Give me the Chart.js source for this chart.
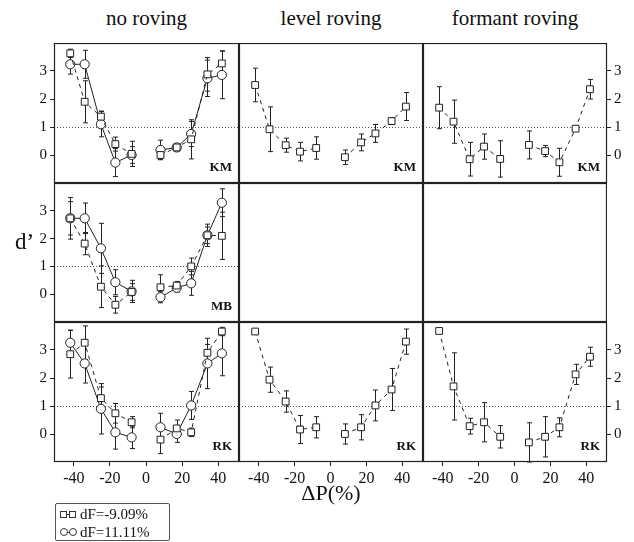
<!DOCTYPE html>
<html>
<head>
<meta charset="utf-8">
<script src="https://cdn.jsdelivr.net/npm/chart.js@4"></script>
<style>
  body { margin: 0; background: #fff; font-family: "Liberation Serif", "DejaVu Serif", serif; color: #111; }
  #wrap { position: relative; width: 634px; height: 542px; overflow: hidden; }
  canvas { position: absolute; }
  .txt { position: absolute; white-space: nowrap; }
  .title { font-size: 21px; transform: translateX(-50%); top: 6px; }
  #legend { position: absolute; left: 55px; top: 503px; width: 115px; height: 38px; border: 1px solid #555; border-radius: 2px; font-size: 15px; line-height: 18px; padding-top: 1px; box-sizing: border-box; }
  #legend .row { position: relative; height: 18px; padding-left: 24px; }
  #legend .mk { position: absolute; top: 6px; width: 5px; height: 5px; border: 1px solid #333; background: #fff; }
  #legend .ln { position: absolute; top: 9px; left: 8px; width: 8px; border-top: 1px solid #333; }
</style>
</head>
<body>
<div id="wrap"></div>
<script>
// delta P values (%) shared by every panel
const dP = [-42, -34, -25, -17, -8, 8, 17, 25, 34, 42];
const xTicks = [-40, -20, 0, 20, 40];
const yTicks = [0, 1, 2, 3];
const panelTitles = ["no roving", "level roving", "formant roving"];
const seriesNames = ["dF=-9.09%", "dF=11.11%"];

// KM
const kmNoSq = [3.63, 1.9, 1.37, 0.39, 0.04, 0.0, 0.27, 0.56, 2.88, 3.27];
const kmNoSqErr = [0.15, 0.75, 0.2, 0.25, 0.45, 0.15, 0.1, 0.7, 0.6, 0.45];
const kmNoCi = [3.24, 3.24, 1.1, -0.27, 0.0, 0.18, 0.27, 0.75, 2.74, 2.86];
const kmNoCiErr = [0.35, 0.5, 0.45, 0.5, 0.3, 0.35, 0.12, 0.45, 0.65, 0.85];
const kmLevel = [2.5, 0.92, 0.35, 0.12, 0.25, -0.08, 0.45, 0.77, 1.21, 1.73];
const kmLevelErr = [0.6, 0.8, 0.25, 0.33, 0.4, 0.26, 0.3, 0.32, 0.12, 0.5];
const kmFormant = [1.69, 1.19, -0.15, 0.3, -0.14, 0.36, 0.14, -0.26, 0.94, 2.35];
const kmFormantErr = [0.75, 0.77, 0.6, 0.45, 0.65, 0.5, 0.2, 0.5, 0.1, 0.35];

// MB
const mbNoSq = [2.73, 1.82, 0.27, -0.38, 0.08, 0.25, 0.31, 1.0, 2.12, 2.1];
const mbNoSqErr = [0.6, 0.4, 0.75, 0.3, 0.3, 0.45, 0.15, 0.3, 0.3, 0.85];
const mbNoCi = [2.73, 2.73, 1.65, 0.43, 0.1, -0.11, 0.23, 0.39, 2.12, 3.29];
const mbNoCiErr = [0.75, 0.55, 0.9, 0.45, 0.4, 0.2, 0.15, 0.43, 0.4, 0.5];

// RK
const rkNoSq = [2.85, 3.26, 1.28, 0.74, 0.42, -0.2, 0.2, 0.06, 2.9, 3.66];
const rkNoSqErr = [0.85, 0.6, 0.4, 0.35, 0.2, 0.5, 0.3, 0.15, 0.3, 0.15];
const rkNoCi = [3.26, 2.52, 0.9, 0.06, -0.12, 0.24, 0.0, 1.02, 2.52, 2.88];
const rkNoCiErr = [0.45, 0.7, 0.9, 0.6, 0.4, 0.5, 0.3, 0.5, 0.9, 0.8];
const rkLevel = [3.66, 1.94, 1.16, 0.16, 0.24, 0.0, 0.24, 1.02, 1.59, 3.3];
const rkLevelErr = [0.05, 0.45, 0.38, 0.5, 0.38, 0.36, 0.45, 0.55, 0.75, 0.45];
const rkFormant = [3.68, 1.7, 0.28, 0.42, -0.1, -0.3, -0.1, 0.24, 2.13, 2.76];
const rkFormantErr = [0.05, 1.2, 0.28, 0.7, 0.4, 0.7, 0.72, 0.34, 0.36, 0.34];

const FONT = '"Liberation Serif", "DejaVu Serif", serif';
const INK = "#222";

// panel grid geometry
const colX = [54, 239, 423];
const colW = [185, 184, 184];
const rowY = [43, 183, 322];
const rowH = [140, 139, 140];
const yAxisW = [54, 0, 26];
const xAxisH = 40;

// error bars, frame, reference line and observer tag
const panelDecor = {
  id: "panelDecor",
  beforeDatasetsDraw(chart, args, opts) {
    const { ctx, chartArea: a } = chart;
    const xs = chart.scales.x, ys = chart.scales.y;
    ctx.save();
    if (opts.refLine) {
      ctx.strokeStyle = "#555";
      ctx.lineWidth = 1;
      ctx.setLineDash([1, 2]);
      const y = Math.round(ys.getPixelForValue(1)) + 0.5;
      ctx.beginPath();
      ctx.moveTo(a.left, y);
      ctx.lineTo(a.right, y);
      ctx.stroke();
      ctx.setLineDash([]);
    }
    ctx.strokeStyle = INK;
    ctx.lineWidth = 1;
    chart.data.datasets.forEach(ds => {
      if (!ds.errors) return;
      ds.data.forEach((p, i) => {
        const e = ds.errors[i];
        const x = Math.round(xs.getPixelForValue(p.x)) + 0.5;
        const y1 = ys.getPixelForValue(p.y + e);
        const y2 = ys.getPixelForValue(p.y - e);
        ctx.beginPath();
        ctx.moveTo(x, y1); ctx.lineTo(x, y2);
        ctx.moveTo(x - 2.5, y1); ctx.lineTo(x + 2.5, y1);
        ctx.moveTo(x - 2.5, y2); ctx.lineTo(x + 2.5, y2);
        ctx.stroke();
      });
    });
    ctx.restore();
  },
  afterDraw(chart, args, opts) {
    const { ctx, chartArea: a } = chart;
    ctx.save();
    ctx.strokeStyle = INK;
    ctx.lineWidth = 1.2;
    ctx.strokeRect(a.left + 0.5, a.top + 0.5, a.width - 1, a.height - 1);
    if (opts.label) {
      ctx.fillStyle = "#111";
      ctx.font = "bold 13px " + FONT;
      ctx.textAlign = "right";
      ctx.textBaseline = "alphabetic";
      ctx.fillText(opts.label, a.right - 7, a.bottom - 12);
    }
    ctx.restore();
  }
};

function series(vals, errs, square) {
  return {
    data: dP.map((x, i) => ({ x: x, y: vals[i] })),
    errors: errs,
    borderColor: INK,
    borderWidth: 1,
    borderDash: square ? [4, 4] : [],
    pointStyle: square ? "rect" : "circle",
    pointRadius: square ? 4.8 : 4.6,
    pointBorderColor: INK,
    pointBorderWidth: 1,
    pointBackgroundColor: "#fff",
    tension: 0,
    segment: {
      borderColor: c => (c.p0.parsed.x < 0 && c.p1.parsed.x > 0) ? "rgba(0,0,0,0)" : undefined
    }
  };
}

const panels = [
  { col: 0, row: 0, label: "KM", sets: [series(kmNoSq, kmNoSqErr, true), series(kmNoCi, kmNoCiErr, false)] },
  { col: 1, row: 0, label: "KM", sets: [series(kmLevel, kmLevelErr, true)] },
  { col: 2, row: 0, label: "KM", sets: [series(kmFormant, kmFormantErr, true)] },
  { col: 0, row: 1, label: "MB", sets: [series(mbNoSq, mbNoSqErr, true), series(mbNoCi, mbNoCiErr, false)] },
  { col: 1, row: 1, label: "", sets: [] },
  { col: 2, row: 1, label: "", sets: [] },
  { col: 0, row: 2, label: "RK", sets: [series(rkNoSq, rkNoSqErr, true), series(rkNoCi, rkNoCiErr, false)] },
  { col: 1, row: 2, label: "RK", sets: [series(rkLevel, rkLevelErr, true)] },
  { col: 2, row: 2, label: "RK", sets: [series(rkFormant, rkFormantErr, true)] }
];

const wrap = document.getElementById("wrap");

function noPad(s) {
  s.paddingTop = 0; s.paddingBottom = 0; s.paddingLeft = 0; s.paddingRight = 0;
}

panels.forEach(p => {
  const empty = p.sets.length === 0;
  const showY = !empty && yAxisW[p.col] > 0;
  const showX = p.row === 2;
  const w = colW[p.col] + (showY ? yAxisW[p.col] : 0);
  const h = rowH[p.row] + (showX ? xAxisH : 0);
  const left = (showY && p.col === 0) ? colX[p.col] - yAxisW[p.col] : colX[p.col];

  const cv = document.createElement("canvas");
  cv.width = w; cv.height = h;
  cv.style.left = left + "px";
  cv.style.top = rowY[p.row] + "px";
  cv.style.width = w + "px";
  cv.style.height = h + "px";
  wrap.appendChild(cv);

  new Chart(cv, {
    type: "line",
    data: { datasets: p.sets },
    options: {
      responsive: false,
      maintainAspectRatio: false,
      animation: false,
      layout: { padding: 0, autoPadding: false },
      plugins: {
        legend: { display: false },
        tooltip: { enabled: false },
        panelDecor: { label: p.label, refLine: !empty }
      },
      scales: {
        x: {
          type: "linear",
          min: -51,
          max: 51.5,
          display: showX,
          afterBuildTicks: s => { s.ticks = xTicks.map(v => ({ value: v })); },
          afterFit: s => { s.height = showX ? xAxisH : 0; noPad(s); },
          grid: { drawOnChartArea: false, drawTicks: true, tickLength: 4, color: INK },
          border: { display: false },
          ticks: { autoSkip: false, maxRotation: 0, padding: 3, color: "#111", font: { family: FONT, size: 16 } }
        },
        y: {
          type: "linear",
          min: -1,
          max: 4,
          position: p.col === 2 ? "right" : "left",
          display: showY,
          afterBuildTicks: s => { s.ticks = yTicks.map(v => ({ value: v })); },
          afterFit: s => { s.width = showY ? yAxisW[p.col] : 0; noPad(s); },
          grid: { drawOnChartArea: false, drawTicks: true, tickLength: 4, color: INK },
          border: { display: false },
          ticks: { padding: 3, color: "#111", font: { family: FONT, size: 15 } }
        }
      }
    },
    plugins: [panelDecor]
  });
});

// column titles
panelTitles.forEach((t, i) => {
  const d = document.createElement("div");
  d.className = "txt title";
  d.style.left = (colX[i] + colW[i] / 2) + "px";
  d.textContent = t;
  wrap.appendChild(d);
});

// axis names
const yName = document.createElement("div");
yName.className = "txt";
yName.style.cssText = "left:15px;top:229px;font-size:23px;";
yName.textContent = "d\u2019";
wrap.appendChild(yName);

const xName = document.createElement("div");
xName.className = "txt";
xName.style.cssText = "left:331px;top:480px;font-size:22px;transform:translateX(-50%);";
xName.textContent = "\u0394P(%)";
wrap.appendChild(xName);

// legend
const lg = document.createElement("div");
lg.id = "legend";
seriesNames.forEach((name, i) => {
  const row = document.createElement("div");
  row.className = "row";
  const ln = document.createElement("span");
  ln.className = "ln";
  row.appendChild(ln);
  [4, 13].forEach(x => {
    const m = document.createElement("span");
    m.className = "mk";
    m.style.left = x + "px";
    if (i === 1) { m.style.borderRadius = "50%"; m.style.width = "6px"; m.style.height = "6px"; m.style.top = "5px"; }
    row.appendChild(m);
  });
  row.appendChild(document.createTextNode(name));
  lg.appendChild(row);
});
wrap.appendChild(lg);
</script>
</body>
</html>
